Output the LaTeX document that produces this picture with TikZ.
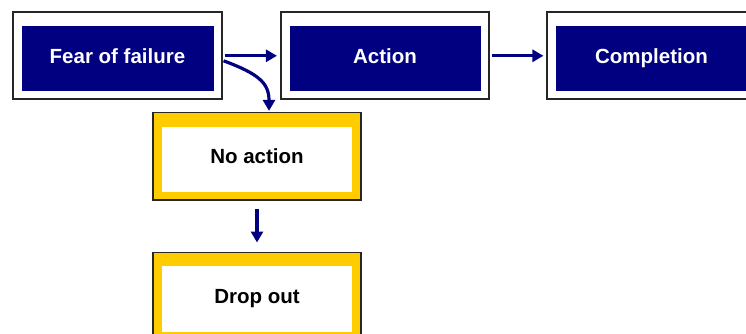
\documentclass[tikz,border=0pt]{standalone}
\usepackage{fontspec}
\setmainfont{Liberation Sans}
\usetikzlibrary{arrows.meta,calc}
\definecolor{navy}{RGB}{0,0,128}
\definecolor{gold}{RGB}{255,204,0}
\begin{document}
\begin{tikzpicture}[x=1pt,y=-1pt,
  boxfont/.style={font=\bfseries\fontsize{20.5}{24}\selectfont,
    text height=14.7pt, text depth=0pt},
  frame/.style={draw=black!85, line width=1.6pt, minimum width=208.5pt,
    minimum height=87pt, inner sep=0pt, boxfont},
  stepbox/.style={frame, fill=white, text=white,
    path picture={\fill[navy]
      ($(path picture bounding box.north west)+(9,14)$) rectangle
      ($(path picture bounding box.south east)+(-8,-8)$);}},
  holdbox/.style={frame, fill=gold, text=black,
    path picture={\fill[white]
      ($(path picture bounding box.north west)+(9,14)$) rectangle
      ($(path picture bounding box.south east)+(-9,-7.5)$);}},
  flow/.style={draw=navy, line width=3.2pt,
    -{Triangle[length=11pt,width=12pt]}}]
\clip (0,0) rectangle (746,334);
\useasboundingbox (0,0) rectangle (746,334);

% main line of steps
\node[stepbox] (fear) at (117.5,55.8) {Fear of failure};
\node[stepbox] (action) at (385,55.8) {Action};
\node[stepbox] (completion) at (651.5,55.8) {Completion};

% branch taken when nothing is done
\node[holdbox] (noaction) at (257,156.2) {No action};
\node[holdbox] (dropout) at (257,295.8) {Drop out};

% connectors
\draw[flow] ([xshift=2pt]fear.east) -- ([xshift=-3pt]action.west);
\draw[flow] ([xshift=2pt]action.east) -- ([xshift=-3pt]completion.west);
\draw[flow] ([xshift=1pt,yshift=-5pt]fear.east)
  .. controls +(35,13) and +(0,-28) .. ($(noaction.north)+(12,-1)$);
\draw[flow] ([yshift=-8pt]noaction.south) -- ([yshift=9pt]dropout.north);
\end{tikzpicture}
\end{document}
